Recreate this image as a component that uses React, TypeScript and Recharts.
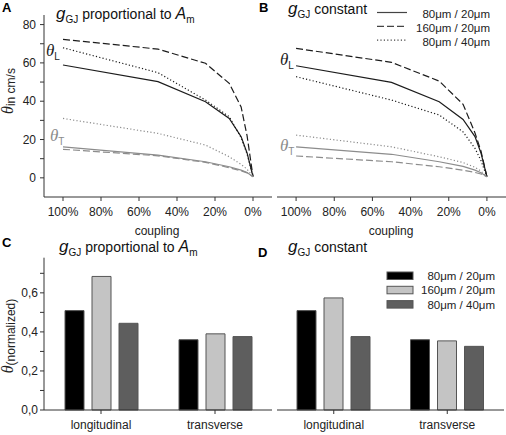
import React from "react";
import { LineChart, Line, BarChart, Bar, XAxis, YAxis } from "recharts";

// coupling strength in % of control
const coupling = [100, 50, 25, 12.5, 6.25, 3.125, 0];

// A: gGJ proportional to Am, velocity in cm/s
const aLong80_20 = [58.9, 50.2, 39.7, 31, 21.5, 13, 0.6];
const aLong160_20 = [72.3, 67.2, 59.8, 49.3, 37, 22, 0.6];
const aLong80_40 = [67.9, 54.9, 40.6, 31.9, 21, 12.5, 0.6];
const aTrans80_20 = [16.2, 11.9, 8.4, 5.8, 4, 2.8, 0.6];
const aTrans160_20 = [14.9, 11.5, 8.1, 5.3, 3.7, 2.6, 0.6];
const aTrans80_40 = [31, 23.2, 17.1, 11, 7, 4.5, 0.6];

// B: gGJ constant
const bLong80_20 = [58.5, 49.8, 39.7, 30.5, 21.5, 13, 0.6];
const bLong160_20 = [67.6, 60.3, 50.5, 38.4, 23.4, 14, 0.6];
const bLong80_40 = [52.8, 40.6, 32.8, 24, 15.4, 9, 0.6];
const bTrans80_20 = [16.2, 12.3, 8.4, 6, 4, 2.7, 0.6];
const bTrans160_20 = [11.4, 8.4, 5.8, 4, 2.8, 2, 0.6];
const bTrans80_40 = [22.3, 16.2, 11, 8, 5.5, 3.5, 0.6];

const couplingTicks = [100, 80, 60, 40, 20, 0];
const velocityTicks = [0, 10, 20, 30, 40, 50, 60, 70, 80];

// C / D: normalized velocity at reduced coupling
const directions = ["longitudinal", "transverse"];
const cNorm80_20 = [0.509, 0.36];
const cNorm160_20 = [0.684, 0.39];
const cNorm80_40 = [0.444, 0.376];
const dNorm80_20 = [0.509, 0.36];
const dNorm160_20 = [0.574, 0.354];
const dNorm80_40 = [0.376, 0.326];
const normTicks = [0, 0.1, 0.2, 0.3, 0.4, 0.5, 0.6, 0.7];

const sizes = ["80μm / 20μm", "160μm / 20μm", "80μm / 40μm"];
const dashes = ["", "7 3", "1.2 2.2"];
const barFills = ["#000000", "#c4c4c4", "#5e5e5e"];

const FONT = "'Liberation Sans', Arial, sans-serif";
const SERIF = "'Liberation Serif', 'Times New Roman', serif";
const LONG = "#1c1c1c";
const TRANS = "#8c8c8c";

const buildLines = (long: number[][], trans: number[][]) =>
  coupling.map((c, i) => ({
    c,
    l0: long[0][i],
    l1: long[1][i],
    l2: long[2][i],
    t0: trans[0][i],
    t1: trans[1][i],
    t2: trans[2][i],
  }));

const lineA = buildLines([aLong80_20, aLong160_20, aLong80_40], [aTrans80_20, aTrans160_20, aTrans80_40]);
const lineB = buildLines([bLong80_20, bLong160_20, bLong80_40], [bTrans80_20, bTrans160_20, bTrans80_40]);

const buildBars = (vals: number[][]) =>
  directions.map((d, i) => ({ d, s0: vals[0][i], s1: vals[1][i], s2: vals[2][i] }));

const barC = buildBars([cNorm80_20, cNorm160_20, cNorm80_40]);
const barD = buildBars([dNorm80_20, dNorm160_20, dNorm80_40]);

const tickStyle = { fill: "#222", fontSize: 12, fontFamily: FONT };
const axisStroke = "#333";

function CouplingChart({ data, showY, width, left }: { data: any[]; showY: boolean; width: number; left: number }) {
  return (
    <div style={{ position: "absolute", left, top: 0 }}>
      <LineChart width={width} height={240} data={data} margin={{ top: 15, right: showY ? 8 : 0, bottom: 0, left: showY ? 0 : 5 }}>
        <XAxis
          dataKey="c"
          type="number"
          domain={[-10, 110]}
          reversed
          ticks={couplingTicks}
          tickFormatter={(v) => `${v}%`}
          tick={tickStyle}
          tickSize={4}
          tickMargin={6}
          height={43}
          stroke={axisStroke}
          interval={0}
        />
        <YAxis
          type="number"
          domain={[-10, 85]}
          ticks={velocityTicks}
          tickFormatter={(v) => (v % 20 === 0 ? String(v) : "")}
          tick={tickStyle}
          tickSize={4}
          tickMargin={4}
          width={44}
          stroke={axisStroke}
          hide={!showY}
          interval={0}
        />
        {[0, 1, 2].map((k) => (
          <Line key={`l${k}`} type="linear" dataKey={`l${k}`} stroke={LONG} strokeWidth={1.2} strokeDasharray={dashes[k]} dot={false} isAnimationActive={false} />
        ))}
        {[0, 1, 2].map((k) => (
          <Line key={`t${k}`} type="linear" dataKey={`t${k}`} stroke={TRANS} strokeWidth={1.2} strokeDasharray={dashes[k]} dot={false} isAnimationActive={false} />
        ))}
      </LineChart>
    </div>
  );
}

function NormChart({ data, showY, width, left }: { data: any[]; showY: boolean; width: number; left: number }) {
  return (
    <div style={{ position: "absolute", left, top: 240 }}>
      <BarChart width={width} height={195} data={data} margin={{ top: 17.7, right: showY ? 8 : 2, bottom: 0, left: showY ? 0 : 5 }} barGap={8} barSize={19}>
        <XAxis dataKey="d" tick={tickStyle} tickSize={4} tickMargin={6} height={25} stroke={axisStroke} />
        <YAxis
          type="number"
          domain={[0, 0.78]}
          ticks={normTicks}
          tickFormatter={(v) => (Math.round(v * 10) % 2 === 0 ? v.toFixed(1).replace(".", ",") : "")}
          tick={tickStyle}
          tickSize={4}
          tickMargin={2}
          width={44}
          stroke={axisStroke}
          hide={!showY}
          interval={0}
        />
        {[0, 1, 2].map((k) => (
          <Bar key={k} dataKey={`s${k}`} fill={barFills[k]} stroke="#555" strokeWidth={1} isAnimationActive={false} />
        ))}
      </BarChart>
    </div>
  );
}

function GTitle({ x, y, tail }: { x: number; y: number; tail: "prop" | "const" }) {
  return (
    <text x={x} y={y} fontSize={14} fill="#111" fontFamily={FONT}>
      <tspan fontStyle="italic" fontSize={17}>g</tspan>
      <tspan fontSize={10} dy={4}>GJ</tspan>
      {tail === "prop" ? (
        <>
          <tspan dy={-4}> proportional to </tspan>
          <tspan fontStyle="italic" fontSize={16}>A</tspan>
          <tspan fontSize={10} dy={4}>m</tspan>
        </>
      ) : (
        <tspan dy={-4}> constant</tspan>
      )}
    </text>
  );
}

function Theta({ x, y, sub, color }: { x: number; y: number; sub: string; color: string }) {
  return (
    <text x={x} y={y} fill={color}>
      <tspan fontFamily={SERIF} fontStyle="italic" fontSize={17}>θ</tspan>
      <tspan fontFamily={FONT} fontSize={10} dy={4}>{sub}</tspan>
    </text>
  );
}

function Overlay() {
  const letter = { fontFamily: FONT, fontWeight: 700, fontSize: 13, fill: "#000" };
  return (
    <svg width={506} height={435} style={{ position: "absolute", left: 0, top: 0, pointerEvents: "none" }}>
      <text x={2} y={12} {...letter}>A</text>
      <text x={259} y={12} {...letter}>B</text>
      <text x={2} y={247} {...letter}>C</text>
      <text x={258} y={257} {...letter}>D</text>

      <GTitle x={56} y={19} tail="prop" />
      <GTitle x={288} y={14} tail="const" />
      <GTitle x={59} y={252} tail="prop" />
      <GTitle x={288} y={252} tail="const" />

      <text x={157} y={235} textAnchor="middle" fontSize={12} fontFamily={FONT} fill="#222">coupling</text>
      <text x={391} y={235} textAnchor="middle" fontSize={12} fontFamily={FONT} fill="#222">coupling</text>

      <text transform="rotate(-90)" x={-91} y={13} textAnchor="middle" fill="#222">
        <tspan fontFamily={SERIF} fontStyle="italic" fontSize={16}>θ</tspan>
        <tspan fontFamily={FONT} fontSize={12} dy={2}>in cm/s</tspan>
      </text>
      <text transform="rotate(-90)" x={-336} y={13} textAnchor="middle" fill="#222">
        <tspan fontFamily={SERIF} fontStyle="italic" fontSize={16}>θ</tspan>
        <tspan fontFamily={FONT} fontSize={12} dy={2}>(normalized)</tspan>
      </text>

      <Theta x={46} y={56} sub="L" color={LONG} />
      <Theta x={50} y={141} sub="T" color={TRANS} />
      <Theta x={280} y={65} sub="L" color={LONG} />
      <Theta x={280} y={151} sub="T" color={TRANS} />

      {sizes.map((s, k) => (
        <g key={`ll${k}`}>
          <line x1={377} x2={407} y1={12.5 + k * 13.8} y2={12.5 + k * 13.8} stroke="#444" strokeWidth={1.2} strokeDasharray={dashes[k]} />
          <text x={490} y={18 + k * 13.8} textAnchor="end" fontSize={11.5} fontFamily={FONT} fill="#222">{s}</text>
        </g>
      ))}
      {sizes.map((s, k) => (
        <g key={`bl${k}`}>
          <rect x={387} y={272 + k * 14.3} width={26} height={7.5} fill={barFills[k]} stroke="#555" strokeWidth={1} />
          <text x={495} y={280 + k * 14.3} textAnchor="end" fontSize={11.5} fontFamily={FONT} fill="#222">{s}</text>
        </g>
      ))}
    </svg>
  );
}

export default function App() {
  return (
    <div style={{ position: "absolute", left: 0, top: 0, width: 506, height: 435, background: "#fff", fontFamily: FONT }}>
      <CouplingChart data={lineA} showY width={280} left={0} />
      <CouplingChart data={lineB} showY={false} width={234} left={272} />
      <NormChart data={barC} showY width={280} left={0} />
      <NormChart data={barD} showY={false} width={234} left={272} />
      <Overlay />
    </div>
  );
}
